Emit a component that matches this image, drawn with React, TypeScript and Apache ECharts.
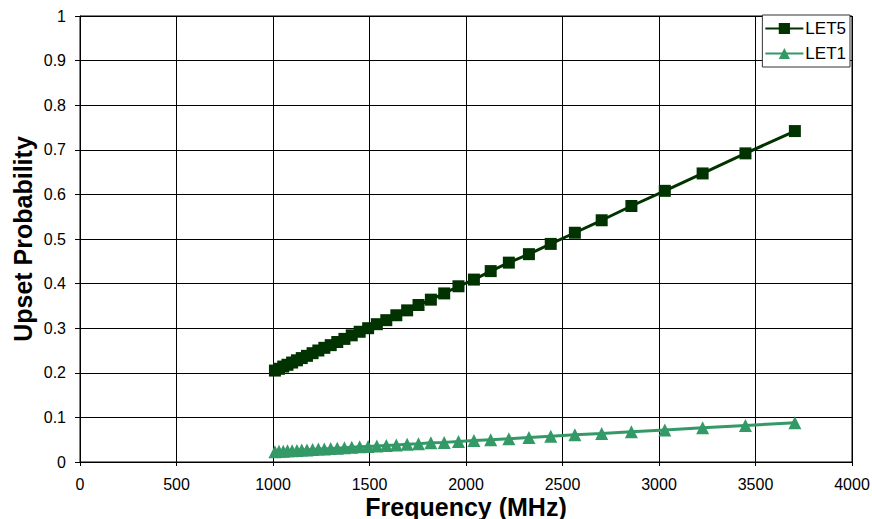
import React, { useEffect, useRef } from "react";
import * as echarts from "echarts";

const freqs = [1010, 1031, 1053, 1075, 1099, 1124, 1149, 1176, 1205, 1235, 1266, 1299, 1333, 1370, 1408, 1449, 1493, 1538, 1587, 1639, 1695, 1754, 1818, 1887, 1961, 2041, 2128, 2222, 2326, 2439, 2564, 2703, 2857, 3030, 3226, 3448, 3704];
const let5 = [0.205, 0.209, 0.214, 0.218, 0.223, 0.228, 0.233, 0.238, 0.244, 0.25, 0.256, 0.262, 0.269, 0.276, 0.284, 0.292, 0.3, 0.309, 0.318, 0.329, 0.34, 0.352, 0.364, 0.378, 0.394, 0.409, 0.428, 0.447, 0.466, 0.489, 0.514, 0.542, 0.574, 0.608, 0.647, 0.692, 0.742];
const let1 = [0.023, 0.024, 0.024, 0.025, 0.025, 0.026, 0.027, 0.027, 0.028, 0.029, 0.029, 0.03, 0.031, 0.032, 0.033, 0.034, 0.035, 0.036, 0.037, 0.038, 0.04, 0.041, 0.043, 0.044, 0.046, 0.048, 0.05, 0.052, 0.055, 0.058, 0.061, 0.064, 0.068, 0.072, 0.077, 0.082, 0.088];
const seriesNames = ["LET5", "LET1"];

export default function App() {
  const ref = useRef<HTMLDivElement>(null);
  useEffect(() => {
    if (!ref.current) return;
    const chart = echarts.init(ref.current, undefined, { renderer: "svg" });
    const font = "Liberation Sans, Arial, sans-serif";
    chart.setOption({
      animation: false,
      backgroundColor: "#fff",
      grid: { left: 80, right: 20, top: 16, bottom: 57, show: true, borderColor: "#000", borderWidth: 1, containLabel: false, outerBoundsMode: "none" },
      legend: {
        right: 22,
        top: 15,
        orient: "vertical",
        backgroundColor: "#fff",
        borderColor: "#333",
        borderWidth: 1,
        borderRadius: 0,
        padding: [5, 4, 5, 2],
        itemGap: 8,
        itemWidth: 38,
        itemHeight: 14,
        textStyle: { fontFamily: font, fontSize: 17, color: "#000", padding: [0, 0, 0, -3] },
        data: seriesNames,
      },
      xAxis: {
        type: "value",
        min: 0,
        max: 4000,
        interval: 500,
        name: "Frequency (MHz)",
        nameLocation: "middle",
        nameGap: 32,
        nameMoveOverlap: false,
        nameTextStyle: { fontFamily: font, fontSize: 25, fontWeight: "bold", color: "#000" },
        axisLine: { lineStyle: { color: "#000" } },
        axisTick: { show: true, length: 4, lineStyle: { color: "#000" } },
        axisLabel: { fontFamily: font, fontSize: 16, color: "#000", margin: 14, formatter: (v: number) => String(v) },
        splitLine: { show: true, lineStyle: { color: "#000", width: 1 } },
      },
      yAxis: {
        type: "value",
        min: 0,
        max: 1,
        interval: 0.1,
        name: "Upset Probability",
        nameLocation: "middle",
        nameGap: 45,
        nameMoveOverlap: false,
        nameTextStyle: { fontFamily: font, fontSize: 25, fontWeight: "bold", color: "#000" },
        axisLine: { show: true, lineStyle: { color: "#000" } },
        axisTick: { show: true, length: 5, lineStyle: { color: "#000" } },
        axisLabel: { fontFamily: font, fontSize: 16, color: "#000", margin: 14, formatter: (v: number) => String(Math.round(v * 10) / 10) },
        splitLine: { show: true, lineStyle: { color: "#000", width: 1 } },
      },
      series: [
        {
          name: seriesNames[0],
          type: "line",
          data: freqs.map((f, i) => [f, let5[i]]),
          symbol: "rect",
          symbolSize: 12,
          color: "#003300",
          lineStyle: { color: "#003300", width: 3 },
          itemStyle: { color: "#003300" },
        },
        {
          name: seriesNames[1],
          type: "line",
          data: freqs.map((f, i) => [f, let1[i]]),
          symbol: "triangle",
          symbolSize: 13,
          color: "#339966",
          lineStyle: { color: "#339966", width: 3 },
          itemStyle: { color: "#339966" },
        },
      ],
    });
    return () => chart.dispose();
  }, []);
  return <div ref={ref} style={{ width: 872, height: 519, position: "absolute", left: 0, top: 0 }} />;
}
